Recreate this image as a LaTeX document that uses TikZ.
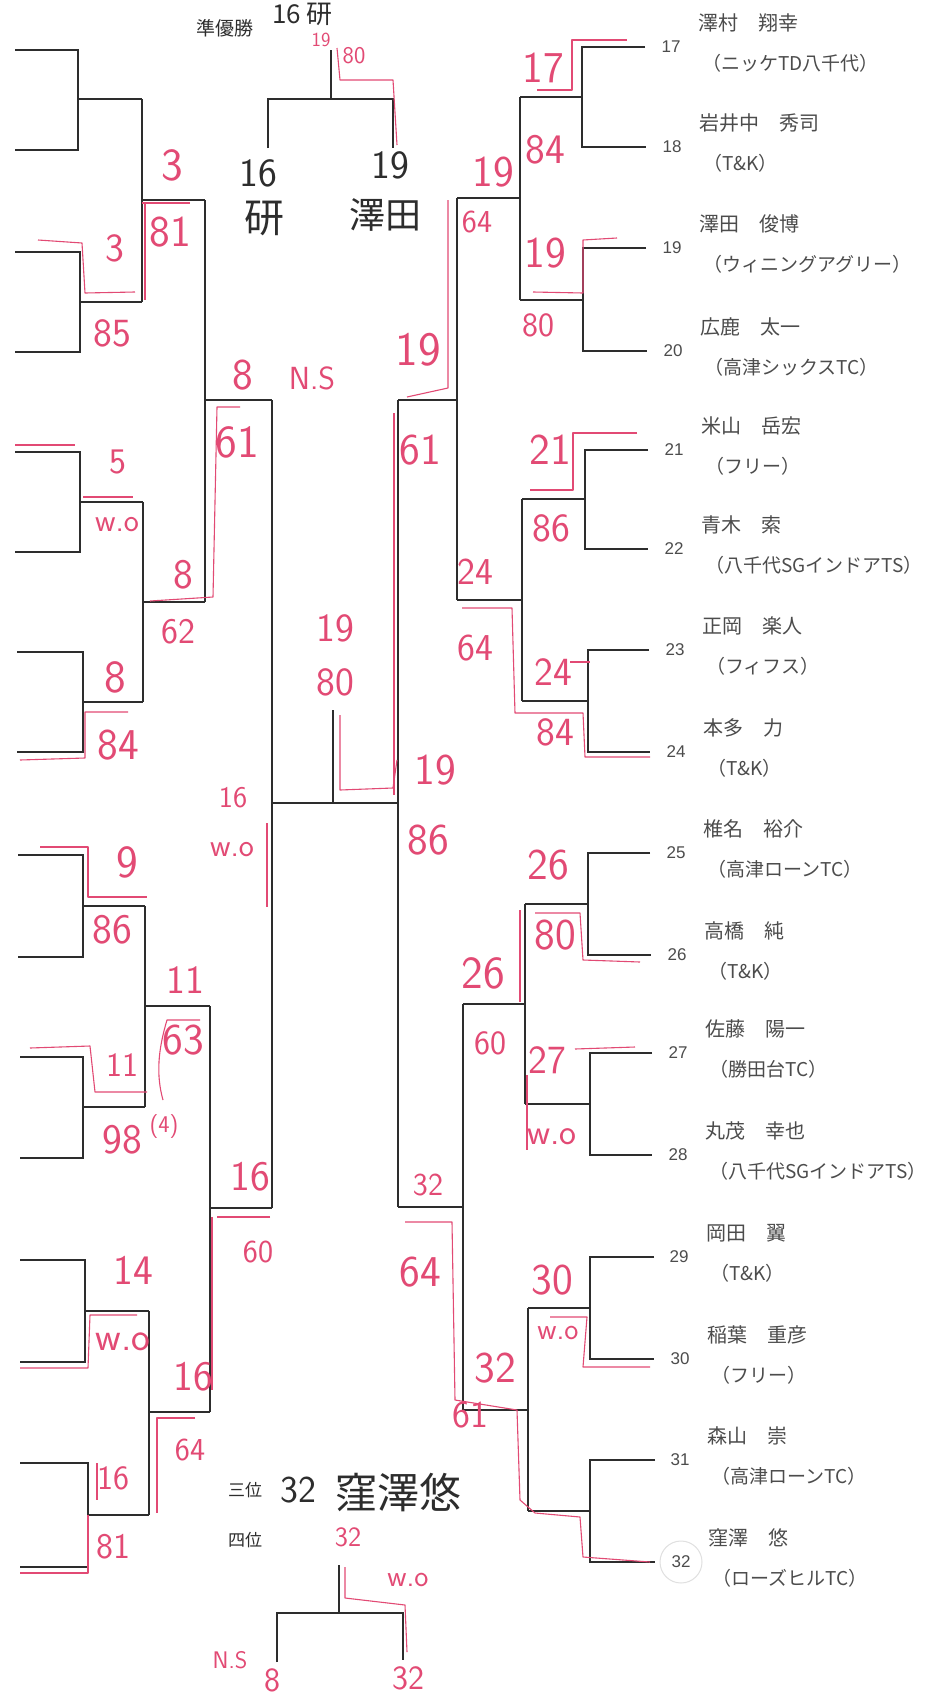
\documentclass[tikz,border=0pt]{standalone}
\usepackage{fontspec}
\usepackage{tikz}
\newfontfamily\jpfont{Noto Sans CJK JP}
\newfontfamily\numfont{Liberation Sans}
\newcommand{\hw}[1]{\sffamily\fontsize{#1}{#1}\selectfont}
\newcommand{\jw}[1]{\jpfont\fontsize{#1}{#1}\selectfont}
\definecolor{ink}{RGB}{45,45,45}
\definecolor{penred}{RGB}{226,74,116}
\tikzstyle{bline}  = [ink, line width=1.1pt]
\tikzstyle{redline} = [penred, line width=1.1pt, line join=round]
\tikzstyle{num}    = [ink!85, font=\numfont\fontsize{17}{17}\selectfont, inner sep=0]
\tikzstyle{player} = [ink!85, font=\jw{20}, anchor=west, inner sep=0]
\tikzstyle{club}   = [ink!85, font=\jw{19}, anchor=west, inner sep=0]
\tikzstyle{hand}   = [penred, inner sep=0]
\tikzstyle{scrawl} = [ink, inner sep=0]

\begin{document}
\begin{tikzpicture}[x=1pt,y=-1pt]
	\fill[white] (0,0) rectangle (950,1700);
	\useasboundingbox (0,0) rectangle (950,1700);

	% left half, first round
	\draw[bline] (15,50) -- (78,50) -- (78,150) -- (15,150);
	\draw[bline] (15,252) -- (80,252) -- (80,352) -- (15,352);
	\draw[bline] (15,452) -- (80,452) -- (80,552) -- (15,552);
	\draw[bline] (17,652) -- (83,652) -- (83,752) -- (17,752);
	\draw[bline] (18,855) -- (83,855) -- (83,957) -- (18,957);
	\draw[bline] (20,1057) -- (83,1057) -- (83,1158) -- (20,1158);
	\draw[bline] (20,1260) -- (85,1260) -- (85,1362) -- (20,1362);
	\draw[bline] (20,1463) -- (88,1463) -- (88,1567) -- (20,1567);

	\draw[bline] (78,99) -- (142,99);
	\draw[bline] (80,302) -- (142,302);
	\draw[bline] (80,502) -- (143,502);
	\draw[bline] (83,702) -- (143,702);
	\draw[bline] (83,906) -- (145,906);
	\draw[bline] (83,1107) -- (145,1107);
	\draw[bline] (85,1311) -- (149,1311);
	\draw[bline] (88,1515) -- (149,1515);

	\draw[bline] (142,99) -- (142,302);
	\draw[bline] (143,502) -- (143,702);
	\draw[bline] (145,906) -- (145,1107);
	\draw[bline] (149,1311) -- (149,1515);

	\draw[bline] (142,200) -- (205,200);
	\draw[bline] (143,602) -- (205,602);
	\draw[bline] (145,1006) -- (210,1006);
	\draw[bline] (149,1412) -- (210,1412);

	\draw[bline] (205,200) -- (205,602);
	\draw[bline] (210,1006) -- (210,1412);
	\draw[bline] (205,400) -- (272,400);
	\draw[bline] (210,1208) -- (272,1208);
	\draw[bline] (272,400) -- (272,1208);

	% right half, first round
	\draw[bline] (645,47) -- (582,47) -- (582,147) -- (646,147);
	\draw[bline] (646,248) -- (583,248) -- (583,351) -- (647,351);
	\draw[bline] (648,450) -- (585,450) -- (585,549) -- (648,549);
	\draw[bline] (649,650) -- (588,650) -- (588,752) -- (650,752);
	\draw[bline] (650,853) -- (588,853) -- (588,955) -- (651,955);
	\draw[bline] (652,1053) -- (590,1053) -- (590,1155) -- (652,1155);
	\draw[bline] (654,1257) -- (590,1257) -- (590,1359) -- (654,1359);
	\draw[bline] (655,1460) -- (590,1460) -- (590,1562) -- (655,1562);

	\draw[bline] (582,97) -- (520,97);
	\draw[bline] (583,300) -- (520,300);
	\draw[bline] (585,499) -- (522,499);
	\draw[bline] (588,701) -- (522,701);
	\draw[bline] (588,904) -- (525,904);
	\draw[bline] (590,1104) -- (525,1104);
	\draw[bline] (590,1308) -- (528,1308);
	\draw[bline] (590,1511) -- (528,1511);

	\draw[bline] (520,97) -- (520,300);
	\draw[bline] (522,499) -- (522,701);
	\draw[bline] (525,904) -- (525,1104);
	\draw[bline] (528,1308) -- (528,1511);

	\draw[bline] (520,198) -- (457,198);
	\draw[bline] (522,600) -- (457,600);
	\draw[bline] (525,1004) -- (463,1004);
	\draw[bline] (528,1410) -- (463,1410);

	\draw[bline] (457,198) -- (457,600);
	\draw[bline] (463,1004) -- (463,1410);
	\draw[bline] (457,400) -- (398,400);
	\draw[bline] (463,1207) -- (398,1207);
	\draw[bline] (398,400) -- (398,1207);

	% final and the two small brackets
	\draw[bline] (272,803) -- (398,803);
	\draw[bline] (333,710) -- (333,803);
	\draw[bline] (331,50) -- (331,99);
	\draw[bline] (268,148) -- (268,99) -- (393,99) -- (393,148);
	\draw[bline] (339,1565) -- (339,1613);
	\draw[bline] (277,1662) -- (277,1613) -- (403,1613) -- (403,1660);

	% players
	\node[num] (p17) at (671,47) {17};
	\node[num] (p18) at (672,147) {18};
	\node[num] (p19) at (672,248) {19};
	\node[num] (p20) at (673,351) {20};
	\node[num] (p21) at (674,450) {21};
	\node[num] (p22) at (674,549) {22};
	\node[num] (p23) at (675,650) {23};
	\node[num] (p24) at (676,752) {24};
	\node[num] (p25) at (676,853) {25};
	\node[num] (p26) at (677,955) {26};
	\node[num] (p27) at (678,1053) {27};
	\node[num] (p28) at (678,1155) {28};
	\node[num] (p29) at (679,1257) {29};
	\node[num] (p30) at (680,1359) {30};
	\node[num] (p31) at (680,1460) {31};
	\node[num] (p32) at (681,1562) {32};
	\draw[black!12, line width=1pt] (p32) circle (21);

	\node[player] (name17) at (698,23) {澤村　翔幸};
	\node[player] (name18) at (699,123) {岩井中　秀司};
	\node[player] (name19) at (699,224) {澤田　俊博};
	\node[player] (name20) at (700,327) {広鹿　太一};
	\node[player] (name21) at (701,426) {米山　岳宏};
	\node[player] (name22) at (701,525) {青木　索};
	\node[player] (name23) at (702,626) {正岡　楽人};
	\node[player] (name24) at (703,728) {本多　力};
	\node[player] (name25) at (703,829) {椎名　裕介};
	\node[player] (name26) at (704,931) {高橋　純};
	\node[player] (name27) at (705,1029) {佐藤　陽一};
	\node[player] (name28) at (705,1131) {丸茂　幸也};
	\node[player] (name29) at (706,1233) {岡田　翼};
	\node[player] (name30) at (707,1335) {稲葉　重彦};
	\node[player] (name31) at (707,1436) {森山　崇};
	\node[player] (name32) at (708,1538) {窪澤　悠};

	\node[club] (club17) at (702,63) {（ニッケTD八千代）};
	\node[club] (club18) at (703,163) {（T\&K）};
	\node[club] (club19) at (703,264) {（ウィニングアグリー）};
	\node[club] (club20) at (704,367) {（高津シックスTC）};
	\node[club] (club21) at (705,466) {（フリー）};
	\node[club] (club22) at (705,565) {（八千代SGインドアTS）};
	\node[club] (club23) at (706,666) {（フィフス）};
	\node[club] (club24) at (707,768) {（T\&K）};
	\node[club] (club25) at (707,869) {（高津ローンTC）};
	\node[club] (club26) at (708,971) {（T\&K）};
	\node[club] (club27) at (709,1069) {（勝田台TC）};
	\node[club] (club28) at (709,1171) {（八千代SGインドアTS）};
	\node[club] (club29) at (710,1273) {（T\&K）};
	\node[club] (club30) at (711,1375) {（フリー）};
	\node[club] (club31) at (711,1476) {（高津ローンTC）};
	\node[club] (club32) at (712,1578) {（ローズヒルTC）};

	% printed captions and black handwriting
	\node[scrawl, font=\jw{19}] (second) at (225,28) {準優勝};
	\node[scrawl, font=\jw{17}] (third) at (245,1490) {三位};
	\node[scrawl, font=\jw{17}] (fourth) at (245,1540) {四位};
	\node[scrawl, font=\jw{26}, anchor=west] (top16) at (272,14) {16 研};
	\node[scrawl, font=\hw{40}] (fin16) at (258,173) {16};
	\node[scrawl, font=\jw{40}] (fin16n) at (264,218) {研};
	\node[scrawl, font=\hw{40}] (fin19) at (390,165) {19};
	\node[scrawl, font=\jw{36}] (fin19n) at (385,215) {澤田};
	\node[scrawl, font=\hw{38}] (bronze) at (298,1490) {32};
	\node[scrawl, font=\jw{42}] (bronzen) at (398,1493) {窪澤悠};

	% red marks, left half
	\node[hand, font=\hw{46}] (l3a) at (172,165) {3};
	\node[hand, font=\hw{44}] (l81a) at (170,232) {81};
	\node[hand, font=\hw{40}] (l3b) at (115,248) {3};
	\node[hand, font=\hw{40}] (l85) at (112,333) {85};
	\node[hand, font=\hw{44}] (l8a) at (243,375) {8};
	\node[hand, font=\hw{32}] (lns) at (312,378) {N.S};
	\node[hand, font=\hw{46}] (l61) at (237,442) {61};
	\node[hand, font=\hw{36}] (l5) at (118,462) {5};
	\node[hand, font=\hw{32}] (lwo1) at (117,525) {w.o};
	\node[hand, font=\hw{42}] (l8b) at (183,575) {8};
	\node[hand, font=\hw{36}] (l62) at (178,632) {62};
	\node[hand, font=\hw{46}] (l8c) at (115,677) {8};
	\node[hand, font=\hw{44}] (l84) at (118,745) {84};
	\node[hand, font=\hw{30}] (l16a) at (233,798) {16};
	\node[hand, font=\hw{32}] (lwo2) at (232,850) {w.o};
	\node[hand, font=\hw{46}] (l9) at (127,862) {9};
	\node[hand, font=\hw{42}] (l86) at (112,930) {86};
	\node[hand, font=\hw{40}] (l11a) at (185,980) {11};
	\node[hand, font=\hw{44}] (l63) at (183,1040) {63};
	\node[hand, font=\hw{34}] (l11b) at (122,1065) {11};
	\node[hand, font=\hw{42}] (l98) at (122,1140) {98};
	\node[hand, font=\hw{24}] (l98b) at (164,1126) {(4)};
	\node[hand, font=\hw{42}] (l16b) at (250,1177) {16};
	\node[hand, font=\hw{32}] (l60) at (258,1252) {60};
	\node[hand, font=\hw{42}] (l14) at (133,1270) {14};
	\node[hand, font=\hw{40}] (lwo3) at (123,1342) {w.o};
	\node[hand, font=\hw{42}] (l16c) at (193,1377) {16};
	\node[hand, font=\hw{32}] (l64) at (190,1450) {64};
	\node[hand, font=\hw{34}] (l16d) at (113,1478) {16};
	\node[hand, font=\hw{36}] (l81b) at (113,1547) {81};

	% red marks, middle and right half
	\node[hand, font=\hw{20}] (m19a) at (321,40) {19};
	\node[hand, font=\hw{24}] (m80a) at (354,56) {80};
	\node[hand, font=\hw{40}] (m19b) at (335,628) {19};
	\node[hand, font=\hw{40}] (m80b) at (335,682) {80};
	\node[hand, font=\hw{44}] (r17) at (543,68) {17};
	\node[hand, font=\hw{44}] (r19a) at (493,172) {19};
	\node[hand, font=\hw{42}] (r84a) at (545,150) {84};
	\node[hand, font=\hw{32}] (r64a) at (477,222) {64};
	\node[hand, font=\hw{44}] (r19b) at (545,253) {19};
	\node[hand, font=\hw{34}] (r80a) at (538,325) {80};
	\node[hand, font=\hw{48}] (r19c) at (418,350) {19};
	\node[hand, font=\hw{44}] (r61a) at (420,450) {61};
	\node[hand, font=\hw{44}] (r21) at (550,450) {21};
	\node[hand, font=\hw{40}] (r86a) at (551,528) {86};
	\node[hand, font=\hw{38}] (r24a) at (475,572) {24};
	\node[hand, font=\hw{38}] (r64b) at (475,648) {64};
	\node[hand, font=\hw{40}] (r24b) at (553,672) {24};
	\node[hand, font=\hw{40}] (r84b) at (555,732) {84};
	\node[hand, font=\hw{44}] (r19d) at (435,770) {19};
	\node[hand, font=\hw{44}] (r86b) at (428,840) {86};
	\node[hand, font=\hw{44}] (r26a) at (548,865) {26};
	\node[hand, font=\hw{44}] (r80b) at (555,935) {80};
	\node[hand, font=\hw{46}] (r26b) at (483,973) {26};
	\node[hand, font=\hw{34}] (r60) at (490,1043) {60};
	\node[hand, font=\hw{40}] (r27) at (547,1060) {27};
	\node[hand, font=\hw{36}] (rwo1) at (552,1137) {w.o};
	\node[hand, font=\hw{32}] (r32a) at (428,1185) {32};
	\node[hand, font=\hw{44}] (r64c) at (420,1272) {64};
	\node[hand, font=\hw{44}] (r30) at (552,1280) {30};
	\node[hand, font=\hw{30}] (rwo2) at (558,1333) {w.o};
	\node[hand, font=\hw{44}] (r32b) at (495,1368) {32};
	\node[hand, font=\hw{38}] (r61b) at (470,1415) {61};

	% red marks, third place match
	\node[hand, font=\hw{28}] (b32a) at (348,1537) {32};
	\node[hand, font=\hw{30}] (bwo) at (408,1580) {w.o};
	\node[hand, font=\hw{24}] (bns) at (230,1660) {N.S};
	\node[hand, font=\hw{34}] (b8) at (272,1680) {8};
	\node[hand, font=\hw{34}] (b32b) at (408,1678) {32};

	% red winner lines
	\draw[redline] (337,48) -- (340,80) -- (393,80) -- (397,145);
	\draw[redline] (38,240) -- (82,243) -- (85,293) -- (135,292);
	\draw[redline] (142,203) -- (190,203);
	\draw[redline] (145,203) -- (145,300);
	\draw[redline] (15,445) -- (75,445);
	\draw[redline] (83,497) -- (133,497);
	\draw[redline] (240,407) -- (217,407) -- (213,597) -- (150,601);
	\draw[redline] (128,712) -- (85,712) -- (85,758) -- (20,760);
	\draw[redline] (267,823) -- (267,907);
	\draw[redline] (40,847) -- (88,847) -- (88,897) -- (147,897);
	\draw[redline] (30,1048) -- (90,1046) -- (95,1092) -- (147,1092);
	\draw[redline] (200,1020) -- (167,1020) .. controls (158,1050) and (156,1075) .. (163,1100);
	\draw[redline] (137,1315) -- (90,1315) -- (88,1368) -- (20,1368);
	\draw[redline] (270,1217) -- (217,1217);
	\draw[redline] (212,1217) -- (212,1390);
	\draw[redline] (195,1418) -- (157,1418) -- (157,1513);
	\draw[redline] (97,1463) -- (97,1500);
	\draw[redline] (88,1515) -- (88,1573) -- (20,1573);
	\draw[redline] (340,715) -- (340,790) -- (393,788) -- (397,760);
	\draw[redline] (627,40) -- (572,40) -- (572,90) -- (537,90);
	\draw[redline] (617,238) -- (583,240) -- (583,293) -- (533,292);
	\draw[redline] (448,200) -- (448,388) -- (407,397);
	\draw[redline] (394,413) -- (394,795);
	\draw[redline] (637,433) -- (573,433) -- (573,490) -- (530,490);
	\draw[redline] (462,608) -- (512,608) -- (515,713) -- (583,713) -- (585,757) -- (650,757);
	\draw[redline] (570,662) -- (590,662);
	\draw[redline] (535,913) -- (580,913) -- (583,960) -- (640,962);
	\draw[redline] (520,910) -- (520,1002);
	\draw[redline] (635,1047) -- (575,1049);
	\draw[redline] (527,1075) -- (527,1150);
	\draw[redline] (550,1317) -- (587,1317) -- (583,1367) -- (650,1367);
	\draw[redline] (405,1222) -- (452,1222) -- (455,1400) -- (517,1410) -- (520,1500) -- (535,1513) -- (580,1517) -- (583,1557) -- (650,1562);
	\draw[redline] (345,1567) -- (345,1598) -- (405,1605) -- (407,1652);
\end{tikzpicture}
\end{document}
